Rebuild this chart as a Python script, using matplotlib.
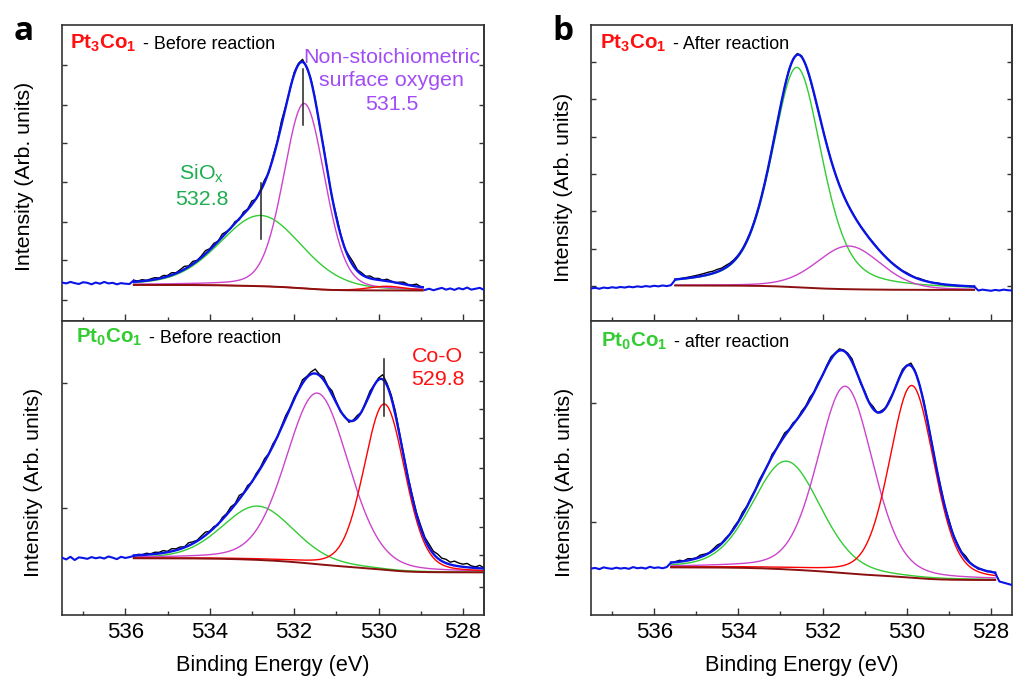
import numpy as np
import matplotlib
matplotlib.use('Agg')
import matplotlib.pyplot as plt

plt.rcParams['font.family'] = ['Liberation Sans', 'DejaVu Sans']
plt.rcParams['mathtext.fontset'] = 'custom'
plt.rcParams['mathtext.rm'] = 'Liberation Sans'
plt.rcParams['mathtext.bf'] = 'Liberation Sans:bold'
plt.rcParams['mathtext.it'] = 'Liberation Sans:italic'

W, H = 1013, 680

# ---------------- data ----------------
# binding-energy grid of the measured spectra (0.1 eV steps, 537.5 -> 527.5)
x_grid = np.linspace(537.5, 527.5, 101)

# Panel a (top): Pt3Co1 before reaction
ta_centers = [532.79, 531.76, 529.81]
ta_heights = [23.9, 62.5, 1.4]
ta_fwhm = [2.3, 1.15, 1.0]
ta_eta = [0.2, 0.2, 0.2]
ta_colors = ['#33cc33', '#cc44cc', '#ff0000']
ta_bg = (12.2, 10.3)
ta_fit = (535.8, 528.95)
ta_res = [0.8, 0.5, 1.0, 0.6, 0.3, 0.9, 0.7, 0.2, 0.8, 0.4, 1.0, 0.5, 0.7, 0.2, 0.6, 0.4, 0.3, 0.5,
          0.2, 0.5, 0.1, 0.4, 0.6, 0.2, 0.7, 0.3, 0.8, 0.2, 0.6, 1.0, 0.3, 0.9, 0.2, 0.5, 1.1, 0.4, 0.8, 0.1, 1.0, 0.3, -0.2,
          0.6, -0.3, 0.8, 0.2, 1.2, -0.2, 0.5, 0.9, -0.4, 0.6, 0.3, 1.4, 0.2, -0.3, 0.7, 0.4, 0.9, -0.2, 0.5, 0.3,
          -0.4, 0.6, 0.2, -0.3, 0.8, 0.3, -0.2, 0.9, 1.2, 0.4, 0.6, 0.2, 0.8, 0.3, 0.5, 0.1, 0.6, 0.2, -0.1, 0.4, 0.7, 0.2, 0.3, 0.8, 0.1,
          0.2, 0.6, 0.1, 0.5, 0.9, 0.3, 0.7, 0.2, 0.8, 0.4, 1.0, 0.3, 0.6, 0.9, 0.2]
ta_yticks = [7.1, 20.6, 33.5, 47.1, 60.0, 73.0, 86.5]
ta_rticks = ta_yticks

# Panel b (top): Pt3Co1 after reaction
tb_centers = [532.61, 531.38]
tb_heights = [74.3, 14.6]
tb_fwhm = [1.42, 1.8]
tb_eta = [0.45, 0.2]
tb_colors = ['#33cc33', '#cc44cc']
tb_bg = (12.0, 10.5)
tb_fit = (535.5, 528.4)
tb_res = [-1.0, -0.8, -1.1, -0.7, -0.9, -0.6, -0.8, -0.5, -0.7, -0.4, -0.6, -0.3, -0.5, -0.2, -0.4, -0.1, -0.3, 0.0, -0.2, 0.1, -0.1,
          0.1, 0.2, 0.3, 0.4, 0.5, 0.6, 0.7, 0.8, 0.7, 0.8, 0.6, 0.7, 0.5, 0.4, 0.3, 0.2, 0.3, 0.1, 0.2, 0.0, 0.1, -0.1, 0.0, 0.1, -0.1,
          0.1, 0.3, 0.2, 0.4, 0.3, 0.1, -0.1, -0.2, 0.0, -0.1, 0.1, -0.2, 0.0, 0.1, -0.1, 0.0, 0.2, 0.0, -0.1, 0.1, 0.0, 0.2, 0.1, 0.0, 0.1,
          0.0, 0.1, 0.2, 0.1, 0.3, 0.2, 0.1, 0.3, 0.2, 0.1, 0.0, 0.2, 0.1, -0.1, 0.0, 0.1, -0.1, 0.0, 0.1, -0.1,
          0.0, -0.2, 0.1, -0.1, -0.3, 0.0, -0.2, 0.1, -0.1, -0.2]
tb_yticks = [11.8, 24.4, 37.1, 49.7, 62.3, 75.0, 87.6]
tb_rticks = tb_yticks

# Panel a (bottom): Pt0Co1 before reaction
ba_centers = [532.86, 531.45, 529.86]
ba_heights = [18.3, 58.2, 56.4]
ba_fwhm = [2.0, 1.75, 1.15]
ba_eta = [0.2, 0.2, 0.2]
ba_colors = ['#33cc33', '#cc44cc', '#ff0000']
ba_bg = (19.3, 14.5)
ba_fit = (535.8, 527.5)
ba_res = [0.2, -0.4, 0.5, -0.6, 0.3, 0.1, -0.2, 0.4, 0.0, 0.3, -0.1, 0.6, 0.2, -0.3, 0.5, 0.1, 0.4, -0.2,
          0.3, 0.1, 0.5, 0.2, 0.6, 0.4, 0.8, 0.3, 0.9, 0.5, 0.7, 0.2, 1.0, 0.6, 0.3, 0.8, 1.1, 0.2, 0.5, -0.3, 0.7, 0.4, 1.0,
          0.3, 1.3, 0.2, 0.8, -0.2, 0.6, 0.4, 1.0, 0.1, 0.7, -0.1, 0.5, 0.9, 0.2, 0.6, 0.3, 1.2, 0.4, 0.8, 1.5,
          0.4, 1.1, 0.2, 1.3, 0.5, -0.4, 0.3, -0.6, 0.2, 0.8, -0.2, 0.5, 0.9, 0.1, 0.6, 1.6, 0.7, 0.9, 1.2, 0.6,
          0.5, 0.3, 0.8, 0.6, 1.0, 0.7, 1.2, 0.9, 1.4, 1.0, 1.3, 0.8, 1.5, 1.1, 0.9, 1.3, 0.6, 0.4, 1.0, 0.2]
ba_yticks = [36.4, 78.9]
ba_rticks = [9.6, 20.4, 30.0, 39.9, 49.9, 60.1, 70.0, 79.7, 89.6]

# Panel b (bottom): Pt0Co1 after reaction
bb_centers = [532.86, 531.46, 529.88]
bb_heights = [36.8, 63.6, 65.4]
bb_fwhm = [1.9, 1.55, 1.25]
bb_eta = [0.2, 0.25, 0.25]
bb_colors = ['#33cc33', '#cc44cc', '#ff0000']
bb_bg = (16.2, 11.9)
bb_fit = (535.6, 527.9)
bb_res = [-0.4, -0.2, -0.6, 0.0, -0.3, -0.5, -0.1, -0.4, -0.2, -0.5, 0.1, -0.3, -0.1, -0.4, 0.2, -0.2, 0.0, -0.3, 0.1, 0.0,
          0.2, 0.5, 0.1, 0.6, 0.3, 0.2, 0.7, 0.4, 0.1, 0.5, 0.8, 0.2, 0.4, 0.0, 0.6, 0.3, 0.9, 0.2, 0.5, 0.1, 0.7,
          0.3, -0.2, 0.8, 0.1, 0.5, 1.0, 0.2, 0.6, -0.1, 0.7, 0.3, 0.9, 0.1, 0.5, -0.2, 0.4, 0.8, 0.2, 0.6, 0.3,
          0.5, 1.0, 0.2, -0.3, 0.6, 0.1, 0.8, -0.2, 0.4, 0.0, 0.5, -0.1, 0.3, 0.7, 0.2, 0.9, 0.4, 0.1, 0.6, 0.2,
          0.3, 0.0, 0.4, 0.2, 0.6, 0.1, 0.5, 0.3, 0.8, 0.2, 0.0, -0.3, 0.1, -0.2, 0.2, -0.1,
          -0.5, -0.9, -1.3, -1.7]
bb_yticks = [31.6, 72.1]
bb_rticks = []

x_major = [536, 534, 532, 530, 528]
x_minor = [537, 535, 533, 531, 529]

BLUE = '#0a14e6'
BGCOL = '#8b1010'


def pvoigt(x, c, h, w, eta):
    u = (x - c) / w
    return h * ((1 - eta) * np.exp(-4 * np.log(2) * u ** 2) + eta / (1 + 4 * u ** 2))


def add_ax(l, t, r, b):
    return fig.add_axes([l / W, 1 - b / H, (r - l) / W, (b - t) / H])


def draw_panel(ax, centers, heights, fwhm, eta, colors, bg, fit, res, yticks, rticks,
               xlabels, marks=()):
    xf = np.linspace(fit[0], fit[1], 600)
    comps = [pvoigt(xf, c, h, w, e) for c, h, w, e in zip(centers, heights, fwhm, eta)]
    total = np.sum(comps, axis=0)
    cum = np.cumsum(total[::-1])[::-1]
    shirley = bg[1] + (bg[0] - bg[1]) * cum / cum[0]
    env = shirley + total

    res = np.asarray(res)
    inside = (x_grid <= fit[0] + 1e-9) & (x_grid >= fit[1] - 1e-9)
    raw = np.where(x_grid > fit[0], bg[0],
                   np.where(x_grid < fit[1], bg[1], np.interp(x_grid, xf[::-1], env[::-1]))) + res

    for comp, col in zip(comps, colors):
        ax.plot(xf, shirley + comp, color=col, lw=1.0, zorder=2)
    ax.plot(xf, shirley, color=BGCOL, lw=1.4, zorder=2)
    ax.plot(x_grid[inside], raw[inside], color='black', lw=1.0, zorder=3)
    ax.plot(xf, env, color=BLUE, lw=1.7, zorder=4)
    left = x_grid >= fit[0] - 1e-9
    right = x_grid <= fit[1] + 1e-9
    if left.sum() > 1:
        ax.plot(x_grid[left], raw[left], color=BLUE, lw=1.5, zorder=4)
    if right.sum() > 1:
        ax.plot(x_grid[right], raw[right], color=BLUE, lw=1.5, zorder=4)

    for (xm, y0, y1) in marks:
        ax.plot([xm, xm], [y0, y1], color='#222222', lw=1.1, zorder=5)

    ax.set_xlim(537.5, 527.5)
    ax.set_ylim(0, 100)
    ax.set_xticks(x_major)
    ax.set_xticks(x_minor, minor=True)
    ax.set_yticks(yticks)
    ax.tick_params(axis='x', which='major', direction='in', length=5, width=1.0,
                   top=False, labelbottom=xlabels, labelsize=16, pad=5, color='#333333')
    ax.tick_params(axis='x', which='minor', direction='in', length=3, width=1.0,
                   top=False, color='#333333')
    ax.tick_params(axis='y', which='both', direction='in', length=3.5, width=1.0,
                   left=True, right=False, labelleft=False, color='#333333')
    if xlabels:
        ax.set_xticklabels([str(v) for v in x_major])
    if rticks:
        sec = ax.secondary_yaxis('right')
        sec.set_yticks(rticks)
        sec.tick_params(axis='y', direction='in', length=3.5, width=1.0,
                        labelright=False, color='#333333')
        sec.spines['right'].set_color('#333333')
        sec.spines['right'].set_linewidth(1.2)
    for s in ax.spines.values():
        s.set_color('#333333')
        s.set_linewidth(1.2)


fig = plt.figure(figsize=(W / 100, H / 100), dpi=100)

ax_ta = add_ax(62, 25, 484, 321)
ax_ba = add_ax(62, 321, 484, 615)
ax_tb = add_ax(591, 25, 1012, 321)
ax_bb = add_ax(591, 321, 1012, 615)

draw_panel(ax_ta, ta_centers, ta_heights, ta_fwhm, ta_eta, ta_colors, ta_bg, ta_fit, ta_res,
           ta_yticks, ta_rticks, False,
           marks=[(531.79, 66.2, 85.1), (532.78, 27.6, 46.7)])
draw_panel(ax_ba, ba_centers, ba_heights, ba_fwhm, ba_eta, ba_colors, ba_bg, ba_fit, ba_res,
           ba_yticks, ba_rticks, True,
           marks=[(529.87, 67.7, 87.0)])
draw_panel(ax_tb, tb_centers, tb_heights, tb_fwhm, tb_eta, tb_colors, tb_bg, tb_fit, tb_res,
           tb_yticks, tb_rticks, False)
draw_panel(ax_bb, bb_centers, bb_heights, bb_fwhm, bb_eta, bb_colors, bb_bg, bb_fit, bb_res,
           bb_yticks, bb_rticks, True)


def ftext(xpx, ypx, s, **kw):
    return fig.text(xpx / W, 1 - ypx / H, s, **kw)


# axis labels
for (xp, yp) in [(24, 176), (34, 482), (563, 187), (564, 482)]:
    ftext(xp, yp, 'Intensity (Arb. units)', rotation=90, ha='center', va='center', fontsize=15.3)
for xp in [273, 801.5]:
    ftext(xp, 666, 'Binding Energy (eV)', ha='center', va='center', fontsize=15.6)

# panel letters
ftext(14, 40, 'a', fontsize=24, fontweight='bold', family=['Open Sans', 'DejaVu Sans'], va='baseline')
ftext(552, 40, 'b', fontsize=24, fontweight='bold', family=['Open Sans', 'DejaVu Sans'], va='baseline')

# panel titles
fig.canvas.draw()
titles = [(70, 49, r'$\mathbf{Pt_3Co_1}$', '#ff1010', '- Before reaction'),
          (600, 49, r'$\mathbf{Pt_3Co_1}$', '#ff1010', '- After reaction'),
          (76, 343, r'$\mathbf{Pt_0Co_1}$', '#33cc33', '- Before reaction'),
          (601, 347, r'$\mathbf{Pt_0Co_1}$', '#33cc33', '- after reaction')]
renderer = fig.canvas.get_renderer()
for xp, yp, sub, col, rest in titles:
    t1 = ftext(xp, yp, sub, color=col, fontsize=14.8, va='baseline')
    bb = t1.get_window_extent(renderer=renderer)
    fig.text((bb.x1 + 7) / W, 1 - yp / H, rest, fontsize=12.9, va='baseline', color='black')

# annotations
ftext(201.7, 186, 'SiO$_\\mathregular{x}$\n532.8', ha='center', va='center', fontsize=15.4,
      color='#1fae4f', linespacing=1.3)
ftext(391.7, 81, 'Non-stoichiometric\nsurface oxygen\n531.5', ha='center', va='center',
      fontsize=15.4, color='#a24cf5', linespacing=1.32)
ftext(437.7, 368, 'Co-O\n529.8', ha='center', va='center', fontsize=15.4, color='#ff1010',
      linespacing=1.32)

fig.savefig('out.png', dpi=100)
